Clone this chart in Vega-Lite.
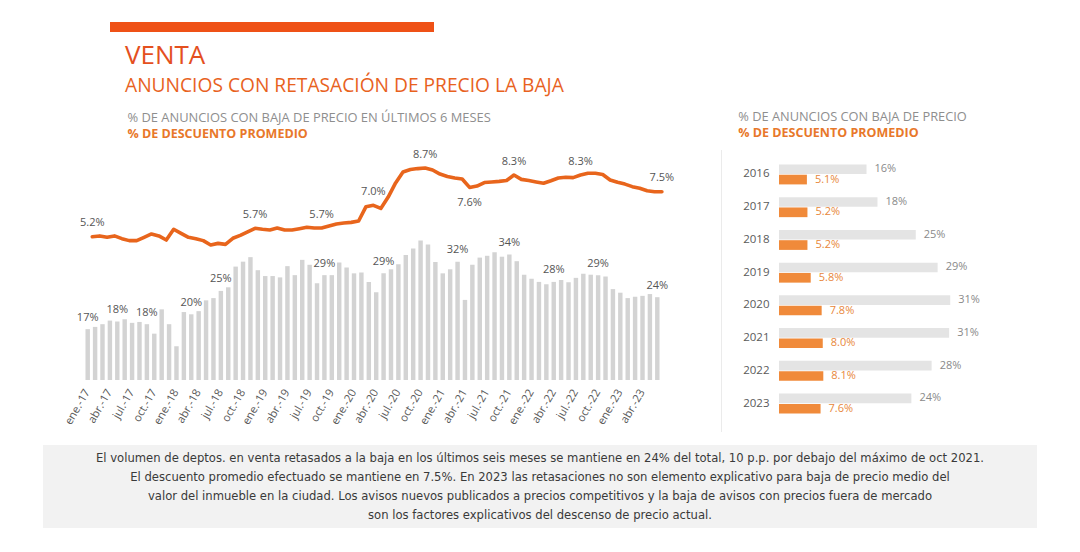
{
  "$schema": "https://vega.github.io/schema/vega-lite/v6.json",
  "padding": {"left": 43, "top": 22, "right": 5, "bottom": 5},
  "background": "white",
  "spacing": 13,
  "config": {
    "font": "Open Sans",
    "view": {"stroke": null},
    "title": {"font": "Open Sans", "subtitleFont": "Open Sans"}
  },
  "vconcat": [
    {
      "hconcat": [
        {"width": 67, "height": 10, "data": {"values": [{}]}, "mark": {"type": "rect", "opacity": 0}, "encoding": {}},
        {
          "width": 324, "height": 10,
          "data": {"values": [{}]},
          "mark": {"type": "rect", "color": "#EF5116"},
          "encoding": {},
          "title": {
            "text": "VENTA",
            "subtitle": "ANUNCIOS CON RETASACIÓN DE PRECIO LA BAJA",
            "orient": "bottom", "anchor": "start", "frame": "group",
            "dx": 15, "offset": 11,
            "fontSize": 26, "fontWeight": "normal", "color": "#E4501E",
            "subtitleFontSize": 19.2, "subtitleColor": "#E8621E", "subtitlePadding": 8
          }
        }
      ],
      "spacing": 0,
      "bounds": "flush"
    },
    {
      "hconcat": [
        {"width": 40.6, "height": 10, "data": {"values": [{}]}, "mark": {"type": "rect", "opacity": 0}, "encoding": {}},
        {
          "width": 577, "height": 230,
          "title": {
            "text": "% DE ANUNCIOS CON BAJA DE PRECIO EN ÚLTIMOS 6 MESES",
            "subtitle": "% DE DESCUENTO PROMEDIO",
            "anchor": "start", "frame": "group", "dx": 43.4, "offset": 8,
            "fontSize": 12.9, "fontWeight": "normal", "color": "#8E8E8E",
            "subtitleFontSize": 12.5, "subtitleFontWeight": "bold", "subtitleColor": "#E8782A", "subtitlePadding": 3
          },
          "data": {"values": [
            {"mes":"ene.-17","anuncios":17.0,"descuento":5.20,"barLabel":"17%","lineLabel":"5.2%","lineLabelBelow":""},
            {"mes":"feb.-17","anuncios":17.5,"descuento":5.24,"barLabel":"","lineLabel":"","lineLabelBelow":""},
            {"mes":"mar.-17","anuncios":18.1,"descuento":5.17,"barLabel":"","lineLabel":"","lineLabelBelow":""},
            {"mes":"abr.-17","anuncios":18.9,"descuento":5.24,"barLabel":"","lineLabel":"","lineLabelBelow":""},
            {"mes":"may.-17","anuncios":18.7,"descuento":5.10,"barLabel":"18%","lineLabel":"","lineLabelBelow":""},
            {"mes":"jun.-17","anuncios":19.2,"descuento":5.00,"barLabel":"","lineLabel":"","lineLabelBelow":""},
            {"mes":"jul.-17","anuncios":18.4,"descuento":5.00,"barLabel":"","lineLabel":"","lineLabelBelow":""},
            {"mes":"ago.-17","anuncios":18.6,"descuento":5.17,"barLabel":"","lineLabel":"","lineLabelBelow":""},
            {"mes":"sep.-17","anuncios":18.1,"descuento":5.34,"barLabel":"18%","lineLabel":"","lineLabelBelow":""},
            {"mes":"oct.-17","anuncios":16.0,"descuento":5.24,"barLabel":"","lineLabel":"","lineLabelBelow":""},
            {"mes":"nov.-17","anuncios":21.4,"descuento":5.03,"barLabel":"","lineLabel":"","lineLabelBelow":""},
            {"mes":"dic.-17","anuncios":18.1,"descuento":5.58,"barLabel":"","lineLabel":"","lineLabelBelow":""},
            {"mes":"ene.-18","anuncios":13.2,"descuento":5.37,"barLabel":"","lineLabel":"","lineLabelBelow":""},
            {"mes":"feb.-18","anuncios":20.8,"descuento":5.17,"barLabel":"","lineLabel":"","lineLabelBelow":""},
            {"mes":"mar.-18","anuncios":20.3,"descuento":5.10,"barLabel":"20%","lineLabel":"","lineLabelBelow":""},
            {"mes":"abr.-18","anuncios":21.0,"descuento":5.00,"barLabel":"","lineLabel":"","lineLabelBelow":""},
            {"mes":"may.-18","anuncios":23.4,"descuento":4.78,"barLabel":"","lineLabel":"","lineLabelBelow":""},
            {"mes":"jun.-18","anuncios":23.9,"descuento":4.86,"barLabel":"","lineLabel":"","lineLabelBelow":""},
            {"mes":"jul.-18","anuncios":25.5,"descuento":4.81,"barLabel":"25%","lineLabel":"","lineLabelBelow":""},
            {"mes":"ago.-18","anuncios":26.3,"descuento":5.12,"barLabel":"","lineLabel":"","lineLabelBelow":""},
            {"mes":"sep.-18","anuncios":30.9,"descuento":5.27,"barLabel":"","lineLabel":"","lineLabelBelow":""},
            {"mes":"oct.-18","anuncios":32.0,"descuento":5.45,"barLabel":"","lineLabel":"","lineLabelBelow":""},
            {"mes":"nov.-18","anuncios":33.0,"descuento":5.63,"barLabel":"","lineLabel":"5.7%","lineLabelBelow":""},
            {"mes":"dic.-18","anuncios":30.1,"descuento":5.58,"barLabel":"","lineLabel":"","lineLabelBelow":""},
            {"mes":"ene.-19","anuncios":28.8,"descuento":5.54,"barLabel":"","lineLabel":"","lineLabelBelow":""},
            {"mes":"feb.-19","anuncios":28.8,"descuento":5.64,"barLabel":"","lineLabel":"","lineLabelBelow":""},
            {"mes":"mar.-19","anuncios":28.5,"descuento":5.54,"barLabel":"","lineLabel":"","lineLabelBelow":""},
            {"mes":"abr.-19","anuncios":31.0,"descuento":5.54,"barLabel":"","lineLabel":"","lineLabelBelow":""},
            {"mes":"may.-19","anuncios":29.0,"descuento":5.61,"barLabel":"","lineLabel":"","lineLabelBelow":""},
            {"mes":"jun.-19","anuncios":32.4,"descuento":5.68,"barLabel":"","lineLabel":"","lineLabelBelow":""},
            {"mes":"jul.-19","anuncios":31.3,"descuento":5.64,"barLabel":"","lineLabel":"","lineLabelBelow":""},
            {"mes":"ago.-19","anuncios":27.2,"descuento":5.64,"barLabel":"","lineLabel":"5.7%","lineLabelBelow":""},
            {"mes":"sep.-19","anuncios":29.0,"descuento":5.75,"barLabel":"29%","lineLabel":"","lineLabelBelow":""},
            {"mes":"oct.-19","anuncios":29.0,"descuento":5.85,"barLabel":"","lineLabel":"","lineLabelBelow":""},
            {"mes":"nov.-19","anuncios":31.8,"descuento":5.90,"barLabel":"","lineLabel":"","lineLabelBelow":""},
            {"mes":"dic.-19","anuncios":30.7,"descuento":5.93,"barLabel":"","lineLabel":"","lineLabelBelow":""},
            {"mes":"ene.-20","anuncios":29.4,"descuento":6.00,"barLabel":"","lineLabel":"","lineLabelBelow":""},
            {"mes":"feb.-20","anuncios":29.6,"descuento":6.73,"barLabel":"","lineLabel":"","lineLabelBelow":""},
            {"mes":"mar.-20","anuncios":27.5,"descuento":6.80,"barLabel":"","lineLabel":"7.0%","lineLabelBelow":""},
            {"mes":"abr.-20","anuncios":25.2,"descuento":6.64,"barLabel":"","lineLabel":"","lineLabelBelow":""},
            {"mes":"may.-20","anuncios":29.4,"descuento":7.22,"barLabel":"29%","lineLabel":"","lineLabelBelow":""},
            {"mes":"jun.-20","anuncios":30.3,"descuento":7.94,"barLabel":"","lineLabel":"","lineLabelBelow":""},
            {"mes":"jul.-20","anuncios":31.4,"descuento":8.50,"barLabel":"","lineLabel":"","lineLabelBelow":""},
            {"mes":"ago.-20","anuncios":33.5,"descuento":8.62,"barLabel":"","lineLabel":"","lineLabelBelow":""},
            {"mes":"sep.-20","anuncios":34.9,"descuento":8.67,"barLabel":"","lineLabel":"","lineLabelBelow":""},
            {"mes":"oct.-20","anuncios":36.7,"descuento":8.70,"barLabel":"","lineLabel":"8.7%","lineLabelBelow":""},
            {"mes":"nov.-20","anuncios":35.8,"descuento":8.60,"barLabel":"","lineLabel":"","lineLabelBelow":""},
            {"mes":"dic.-20","anuncios":31.9,"descuento":8.39,"barLabel":"","lineLabel":"","lineLabelBelow":""},
            {"mes":"ene.-21","anuncios":29.4,"descuento":8.27,"barLabel":"","lineLabel":"","lineLabelBelow":""},
            {"mes":"feb.-21","anuncios":30.3,"descuento":8.19,"barLabel":"","lineLabel":"","lineLabelBelow":""},
            {"mes":"mar.-21","anuncios":32.0,"descuento":8.14,"barLabel":"32%","lineLabel":"","lineLabelBelow":""},
            {"mes":"abr.-21","anuncios":23.5,"descuento":7.71,"barLabel":"","lineLabel":"","lineLabelBelow":"7.6%"},
            {"mes":"may.-21","anuncios":31.3,"descuento":7.78,"barLabel":"","lineLabel":"","lineLabelBelow":""},
            {"mes":"jun.-21","anuncios":32.9,"descuento":7.96,"barLabel":"","lineLabel":"","lineLabelBelow":""},
            {"mes":"jul.-21","anuncios":33.3,"descuento":7.99,"barLabel":"","lineLabel":"","lineLabelBelow":""},
            {"mes":"ago.-21","anuncios":34.1,"descuento":8.02,"barLabel":"","lineLabel":"","lineLabelBelow":""},
            {"mes":"sep.-21","anuncios":33.1,"descuento":8.06,"barLabel":"","lineLabel":"","lineLabelBelow":""},
            {"mes":"oct.-21","anuncios":33.6,"descuento":8.34,"barLabel":"34%","lineLabel":"8.3%","lineLabelBelow":""},
            {"mes":"nov.-21","anuncios":32.1,"descuento":8.12,"barLabel":"","lineLabel":"","lineLabelBelow":""},
            {"mes":"dic.-21","anuncios":29.1,"descuento":8.06,"barLabel":"","lineLabel":"","lineLabelBelow":""},
            {"mes":"ene.-22","anuncios":28.2,"descuento":7.99,"barLabel":"","lineLabel":"","lineLabelBelow":""},
            {"mes":"feb.-22","anuncios":27.5,"descuento":7.92,"barLabel":"","lineLabel":"","lineLabelBelow":""},
            {"mes":"mar.-22","anuncios":27.0,"descuento":8.05,"barLabel":"","lineLabel":"","lineLabelBelow":""},
            {"mes":"abr.-22","anuncios":27.5,"descuento":8.19,"barLabel":"28%","lineLabel":"","lineLabelBelow":""},
            {"mes":"may.-22","anuncios":27.9,"descuento":8.23,"barLabel":"","lineLabel":"","lineLabelBelow":""},
            {"mes":"jun.-22","anuncios":27.4,"descuento":8.21,"barLabel":"","lineLabel":"","lineLabelBelow":""},
            {"mes":"jul.-22","anuncios":28.4,"descuento":8.34,"barLabel":"","lineLabel":"8.3%","lineLabelBelow":""},
            {"mes":"ago.-22","anuncios":29.3,"descuento":8.43,"barLabel":"","lineLabel":"","lineLabelBelow":""},
            {"mes":"sep.-22","anuncios":29.1,"descuento":8.43,"barLabel":"","lineLabel":"","lineLabelBelow":""},
            {"mes":"oct.-22","anuncios":29.0,"descuento":8.37,"barLabel":"29%","lineLabel":"","lineLabelBelow":""},
            {"mes":"nov.-22","anuncios":28.7,"descuento":8.09,"barLabel":"","lineLabel":"","lineLabelBelow":""},
            {"mes":"dic.-22","anuncios":25.9,"descuento":7.97,"barLabel":"","lineLabel":"","lineLabelBelow":""},
            {"mes":"ene.-23","anuncios":25.1,"descuento":7.88,"barLabel":"","lineLabel":"","lineLabelBelow":""},
            {"mes":"feb.-23","anuncios":23.9,"descuento":7.75,"barLabel":"","lineLabel":"","lineLabelBelow":""},
            {"mes":"mar.-23","anuncios":24.2,"descuento":7.67,"barLabel":"","lineLabel":"","lineLabelBelow":""},
            {"mes":"abr.-23","anuncios":24.4,"descuento":7.54,"barLabel":"","lineLabel":"","lineLabelBelow":""},
            {"mes":"may.-23","anuncios":24.8,"descuento":7.49,"barLabel":"","lineLabel":"","lineLabelBelow":""},
            {"mes":"jun.-23","anuncios":24.1,"descuento":7.49,"barLabel":"24%","lineLabel":"7.5%","lineLabelBelow":""}
          ]},
          "encoding": {
            "x": {
              "field": "mes", "type": "ordinal", "sort": null,
              "scale": {"paddingInner": 0.4, "paddingOuter": 0.2},
              "axis": {
                "title": null, "domain": false, "ticks": false, "grid": false,
                "labelAngle": -60, "labelAlign": "right", "labelBaseline": "middle",
                "labelPadding": 10, "labelFontSize": 11.2, "labelColor": "#5A5A5A",
                "labelOverlap": false,
                "labelExpr": "test(/^(ene|abr|jul|oct)/, datum.value) ? datum.value : ''"
              }
            }
          },
          "layer": [
            {
              "layer": [
                {
                  "mark": {"type": "bar", "color": "#D3D3D3"},
                  "encoding": {"y": {"field": "anuncios", "type": "quantitative", "scale": {"domain": [5.7, 56.81], "zero": false, "nice": false, "clamp": true}, "axis": null}}
                },
                {
                  "mark": {"type": "text", "dy": -11.5, "fontSize": 11, "color": "#555555", "baseline": "middle"},
                  "encoding": {
                    "y": {"field": "anuncios", "type": "quantitative", "scale": {"domain": [5.7, 56.81], "zero": false, "nice": false, "clamp": true}, "axis": null},
                    "text": {"field": "barLabel", "type": "nominal"}
                  }
                }
              ]
            },
            {
              "layer": [
                {
                  "mark": {"type": "line", "color": "#E8651C", "strokeWidth": 3.6, "xOffset": 4.6, "strokeCap": "round", "strokeJoin": "round"},
                  "encoding": {"y": {"field": "descuento", "type": "quantitative", "scale": {"domain": [-2.1, 9.617], "zero": false, "nice": false}, "axis": null}}
                },
                {
                  "mark": {"type": "text", "dy": -13.5, "xOffset": 4.6, "fontSize": 11, "color": "#555555", "baseline": "middle"},
                  "encoding": {
                    "y": {"field": "descuento", "type": "quantitative", "scale": {"domain": [-2.1, 9.617], "zero": false, "nice": false}, "axis": null},
                    "text": {"field": "lineLabel", "type": "nominal"}
                  }
                },
                {
                  "mark": {"type": "text", "dy": 15.5, "xOffset": 4.6, "fontSize": 11, "color": "#555555", "baseline": "middle"},
                  "encoding": {
                    "y": {"field": "descuento", "type": "quantitative", "scale": {"domain": [-2.1, 9.617], "zero": false, "nice": false}, "axis": null},
                    "text": {"field": "lineLabelBelow", "type": "nominal"}
                  }
                }
              ]
            }
          ],
          "resolve": {"scale": {"y": "independent"}}
        },
        {"width": 59.4, "height": 10, "data": {"values": [{}]}, "mark": {"type": "rect", "opacity": 0}, "encoding": {}},
        {"width": 1, "height": 282, "data": {"values": [{}]}, "mark": {"type": "rect", "color": "#EBEBEB"}, "encoding": {}},
        {"width": 56.7, "height": 10, "data": {"values": [{}]}, "mark": {"type": "rect", "opacity": 0}, "encoding": {}},
        {
          "width": 200, "height": 278,
          "title": {
            "text": "% DE ANUNCIOS CON BAJA DE PRECIO",
            "subtitle": "% DE DESCUENTO PROMEDIO",
            "anchor": "start", "frame": "group", "dx": -40.7, "offset": 11,
            "fontSize": 12.8, "fontWeight": "normal", "color": "#8E8E8E",
            "subtitleFontSize": 12.5, "subtitleFontWeight": "bold", "subtitleColor": "#E8782A", "subtitlePadding": 3
          },
          "data": {"values": [
            {"year": "2016", "serie": "anuncios", "value": 16, "label": "16%"},
            {"year": "2016", "serie": "descuento", "value": 5.1, "label": "5.1%"},
            {"year": "2017", "serie": "anuncios", "value": 18, "label": "18%"},
            {"year": "2017", "serie": "descuento", "value": 5.2, "label": "5.2%"},
            {"year": "2018", "serie": "anuncios", "value": 25, "label": "25%"},
            {"year": "2018", "serie": "descuento", "value": 5.2, "label": "5.2%"},
            {"year": "2019", "serie": "anuncios", "value": 29, "label": "29%"},
            {"year": "2019", "serie": "descuento", "value": 5.8, "label": "5.8%"},
            {"year": "2020", "serie": "anuncios", "value": 31.3, "label": "31%"},
            {"year": "2020", "serie": "descuento", "value": 7.8, "label": "7.8%"},
            {"year": "2021", "serie": "anuncios", "value": 31.1, "label": "31%"},
            {"year": "2021", "serie": "descuento", "value": 8.0, "label": "8.0%"},
            {"year": "2022", "serie": "anuncios", "value": 27.9, "label": "28%"},
            {"year": "2022", "serie": "descuento", "value": 8.1, "label": "8.1%"},
            {"year": "2023", "serie": "anuncios", "value": 24.2, "label": "24%"},
            {"year": "2023", "serie": "descuento", "value": 7.6, "label": "7.6%"}
          ]},
          "encoding": {
            "y": {
              "field": "year", "type": "ordinal",
              "scale": {"paddingInner": 0.389, "paddingOuter": 0.44},
              "axis": {"title": null, "ticks": false, "domain": false, "labelPadding": 10, "labelFontSize": 11.5, "labelColor": "#5A5A5A"}
            },
            "yOffset": {"field": "serie", "type": "nominal", "sort": ["anuncios", "descuento"], "scale": {"paddingInner": 0.06}},
            "x": {"field": "value", "type": "quantitative", "scale": {"domain": [0, 36.56], "nice": false}, "axis": null}
          },
          "layer": [
            {
              "mark": {"type": "bar"},
              "encoding": {
                "color": {"field": "serie", "type": "nominal", "scale": {"domain": ["anuncios", "descuento"], "range": ["#E4E4E4", "#F08A3A"]}, "legend": null}
              }
            },
            {
              "mark": {"type": "text", "align": "left", "dx": 8, "baseline": "middle", "fontSize": 11},
              "encoding": {
                "text": {"field": "label", "type": "nominal"},
                "color": {"condition": {"test": "datum.serie == 'anuncios'", "value": "#8A8A8A"}, "value": "#E8873A"}
              }
            }
          ]
        }
      ],
      "spacing": 0,
      "bounds": "flush"
    },
    {
      "width": 994, "height": 83,
      "view": {"fill": "#F2F2F2", "stroke": null},
      "data": {"values": [
        {"n": 1, "t": "El volumen de deptos. en venta retasados a la baja en los últimos seis meses se mantiene en 24% del total, 10 p.p. por debajo del máximo de oct 2021."},
        {"n": 2, "t": "El descuento promedio efectuado se mantiene en 7.5%. En 2023 las retasaciones no son elemento explicativo para baja de precio medio del"},
        {"n": 3, "t": "valor del inmueble en la ciudad. Los avisos nuevos publicados a precios competitivos y la baja de avisos con precios fuera de mercado"},
        {"n": 4, "t": "son los factores explicativos del descenso de precio actual."}
      ]},
      "mark": {"type": "text", "font": "DejaVu Sans Condensed", "fontSize": 12.9, "color": "#3A3A3A"},
      "encoding": {
        "y": {"field": "n", "type": "ordinal", "scale": {"type": "point", "padding": 0.72}, "axis": null},
        "text": {"field": "t", "type": "nominal"}
      }
    }
  ]
}
